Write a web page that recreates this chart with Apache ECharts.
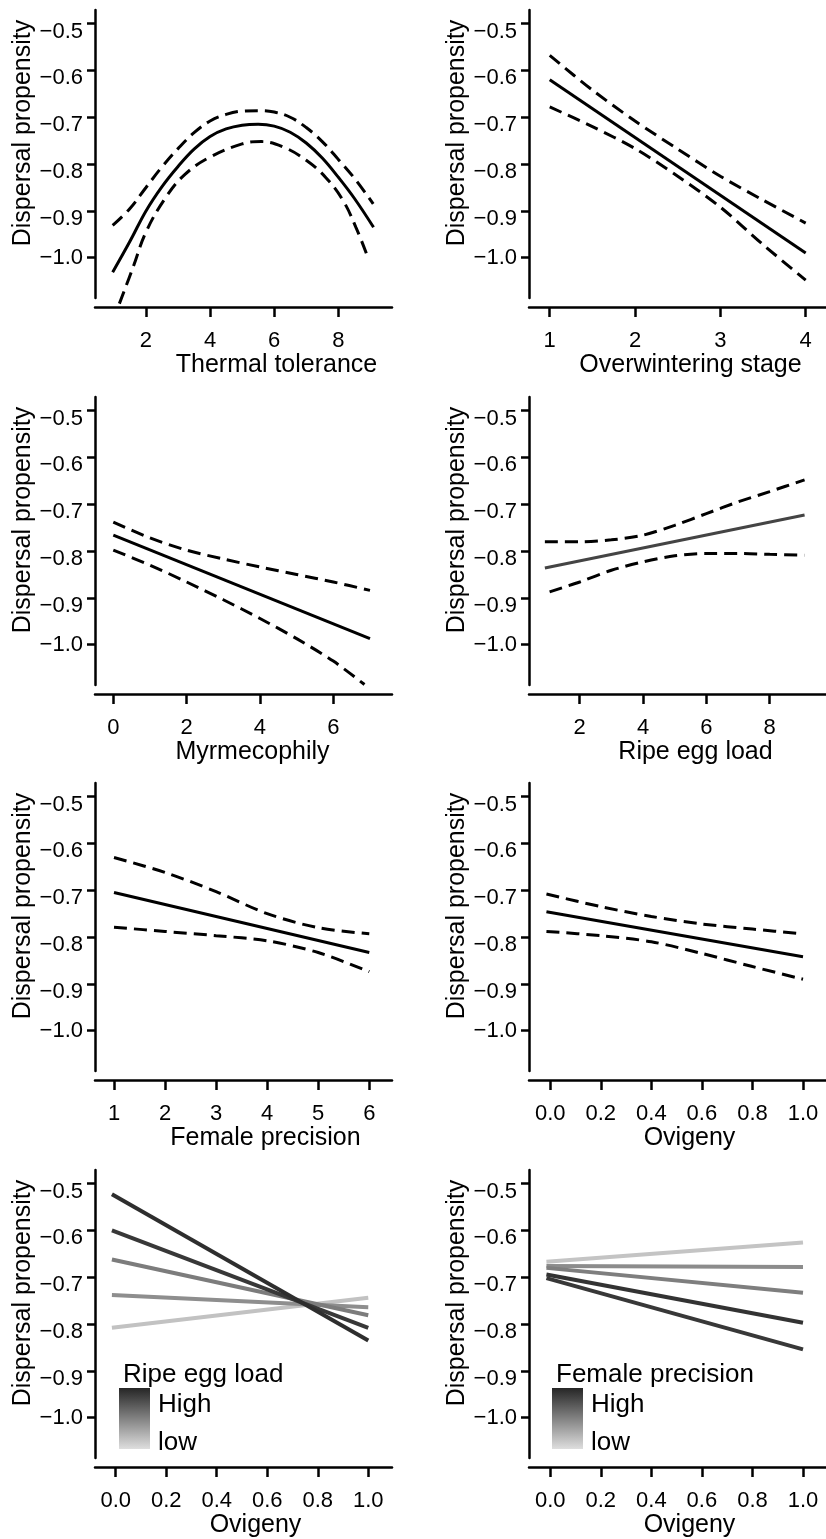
<!DOCTYPE html>
<html>
<head>
<meta charset="utf-8">
<script src="https://cdn.jsdelivr.net/npm/echarts@6/dist/echarts.min.js"></script>
<style>
  html, body { margin: 0; padding: 0; background: #fff; }
  #chart { width: 826px; height: 1539px; }
</style>
</head>
<body>
<div id="chart"></div>
<script>
// y axis, shared by all panels
const yTicks = [-1.0, -0.9, -0.8, -0.7, -0.6, -0.5];

// 1. thermal tolerance (quadratic fit + CI)
const thermalX = [0.96, 1.5, 2, 2.5, 3, 3.5, 4, 4.5, 5, 5.5, 6, 6.5, 7, 7.5, 8, 8.5, 9.1];
const thermalFit = [-1.031, -0.965, -0.900, -0.848, -0.805, -0.768, -0.741, -0.725, -0.717, -0.715, -0.719, -0.732, -0.755, -0.787, -0.828, -0.873, -0.935];
const thermalUpX = [0.96, 1.5, 2, 2.5, 3, 3.5, 4, 4.5, 5, 5.5, 6, 6.5, 7, 7.5, 8, 8.5, 9.09];
const thermalUp = [-0.931, -0.895, -0.850, -0.806, -0.767, -0.733, -0.708, -0.694, -0.687, -0.686, -0.689, -0.700, -0.722, -0.752, -0.790, -0.830, -0.885];
const thermalLoX = [1.17, 1.6, 2.0, 2.6, 3.2, 4.0, 5.0, 5.6, 6.3, 7.0, 7.6, 8.15, 8.55, 8.9];
const thermalLo = [-1.098, -1.020, -0.945, -0.873, -0.823, -0.785, -0.757, -0.752, -0.764, -0.792, -0.828, -0.878, -0.935, -0.995];

// 2. overwintering stage
const winterX = [1, 4];
const winterFit = [-0.620, -0.990];
const winterCiX = [1, 1.5, 2, 2.5, 3, 3.5, 4];
const winterUp = [-0.568, -0.642, -0.708, -0.768, -0.826, -0.877, -0.926];
const winterLo = [-0.678, -0.720, -0.767, -0.826, -0.892, -0.972, -1.048];

// 3. myrmecophily
const myrmX = [0, 7];
const myrmFit = [-0.766, -0.987];
const myrmUpX = [0, 1, 2, 3, 4, 5, 6, 7];
const myrmUp = [-0.738, -0.772, -0.798, -0.817, -0.834, -0.850, -0.866, -0.884];
const myrmLoX = [0, 1, 2, 3, 4, 5, 6, 6.85];
const myrmLo = [-0.798, -0.830, -0.866, -0.904, -0.944, -0.987, -1.035, -1.085];

// 4. ripe egg load
const eggX = [0.9, 9.1];
const eggFit = [-0.836, -0.723];
const eggUpX = [0.9, 2, 3, 4, 5, 6, 7, 8, 9.1];
const eggUp = [-0.780, -0.780, -0.776, -0.766, -0.745, -0.720, -0.695, -0.673, -0.648];
const eggLoX = [1.05, 2, 3, 4, 5, 6, 7, 8, 9.1];
const eggLo = [-0.887, -0.866, -0.841, -0.823, -0.810, -0.805, -0.805, -0.807, -0.809];

// 5. female precision
const precX = [1, 6];
const precFit = [-0.705, -0.833];
const precCiX = [1, 2, 3, 4, 5, 6];
const precUp = [-0.630, -0.662, -0.703, -0.750, -0.780, -0.793];
const precLo = [-0.779, -0.788, -0.797, -0.808, -0.833, -0.874];

// 6. ovigeny
const oviX = [-0.015, 1.0];
const oviFit = [-0.746, -0.842];
const oviCiX = [-0.015, 0.2, 0.4, 0.6, 0.8, 1.0];
const oviUp = [-0.708, -0.735, -0.756, -0.772, -0.783, -0.793];
const oviLo = [-0.788, -0.797, -0.810, -0.835, -0.863, -0.890];

// 7. ovigeny x ripe egg load (lowest level first)
const eggLevelStart = [-0.808, -0.738, -0.662, -0.600, -0.523];
const eggLevelEnd = [-0.744, -0.764, -0.781, -0.808, -0.835];
const eggLevelColor = ['#c2c2c2', '#8e8e8e', '#7c7c7c', '#383838', '#2e2e2e'];

// 8. ovigeny x female precision (lowest level first)
const precLevelStart = [-0.667, -0.676, -0.680, -0.694, -0.702];
const precLevelEnd = [-0.626, -0.678, -0.733, -0.797, -0.854];
const precLevelColor = ['#c4c4c4', '#8c8c8c', '#7e7e7e', '#333333', '#383838'];

const legendTitles = ['Ripe egg load', 'Female precision'];
const legendLevels = ['High', 'low'];

const yTitle = 'Dispersal propensity';
const xTitles = ['Thermal tolerance', 'Overwintering stage', 'Myrmecophily', 'Ripe egg load',
  'Female precision', 'Ovigeny', 'Ovigeny', 'Ovigeny'];
const xTicks = [
  [2, 4, 6, 8], [1, 2, 3, 4], [0, 2, 4, 6], [2, 4, 6, 8],
  [1, 2, 3, 4, 5, 6], [0, 0.2, 0.4, 0.6, 0.8, 1], [0, 0.2, 0.4, 0.6, 0.8, 1], [0, 0.2, 0.4, 0.6, 0.8, 1]
];

// layout
const FONT = 'Liberation Sans, Arial, sans-serif';
const colLeft = [95, 529];
const rowTop = [10, 397, 783, 1170];
const GW = 297, GH = 288;
const Y_MIN = -1.086, Y_MAX = -0.471;
const xRange = [[0.409, 9.676], [0.757, 4.238], [-0.499, 7.60], [0.399, 9.777],
  [0.628, 6.445], [-0.084, 1.091], [-0.082, 1.094], [-0.084, 1.091]];
const titleShift = [33, 13, 9, 18, 22, 12, 12, 12];

const chart = echarts.init(document.getElementById('chart'), null, { renderer: 'canvas' });

const grids = [], xAxes = [], yAxes = [], series = [];

for (let i = 0; i < 8; i++) {
  const col = i % 2, row = Math.floor(i / 2);
  grids.push({ left: colLeft[col], top: rowTop[row], width: GW, height: GH });
  const dec = i >= 5;
  xAxes.push({
    gridIndex: i, type: 'value', min: xRange[i][0], max: xRange[i][1],
    position: 'bottom', offset: 9,
    axisLine: { show: true, onZero: false, lineStyle: { color: '#000', width: 2.5 } },
    axisTick: { show: true, length: 10, customValues: xTicks[i], lineStyle: { color: '#000', width: 2.5 } },
    axisLabel: {
      customValues: xTicks[i], margin: 34, verticalAlign: 'middle',
      color: '#000', fontSize: 22, fontFamily: FONT,
      formatter: v => dec ? v.toFixed(1) : String(v)
    },
    splitLine: { show: false },
    name: xTitles[i], nameLocation: 'middle', nameGap: 55,
    nameTextStyle: {
      color: '#000', fontSize: 25, fontFamily: FONT, verticalAlign: 'middle',
      padding: [0, 0, 0, titleShift[i] * 2]
    }
  });
  yAxes.push({
    gridIndex: i, type: 'value', min: Y_MIN, max: Y_MAX,
    axisLine: { show: true, onZero: false, lineStyle: { color: '#000', width: 2.5 } },
    axisTick: { show: true, length: 8, customValues: yTicks, lineStyle: { color: '#000', width: 2.5 } },
    axisLabel: {
      customValues: yTicks, margin: 12, color: '#000', fontSize: 22, fontFamily: FONT,
      formatter: v => (Math.abs(v + 1) < 1e-6 ? '{c|' : '{s|') + '\u2212' + Math.abs(v).toFixed(1) + '}',
      rich: {
        s: { fontSize: 22, fontFamily: FONT, color: '#000', padding: [16, 0, 0, 0] },
        c: { fontSize: 22, fontFamily: FONT, color: '#000' }
      }
    },
    splitLine: { show: false },
    name: yTitle, nameLocation: 'middle', nameGap: 72,
    nameTextStyle: {
      color: '#000', fontSize: 25, fontFamily: FONT, verticalAlign: 'middle',
      padding: [0, 0, 0, 42]
    }
  });
}

function line(g, xs, ys, opt) {
  series.push({
    type: 'line', xAxisIndex: g, yAxisIndex: g,
    data: xs.map((x, k) => [x, ys[k]]),
    symbol: 'none', silent: true, clip: false,
    smooth: opt.smooth || false,
    lineStyle: {
      color: opt.color || '#000', width: opt.width || 3,
      type: opt.dashed ? [13, 7] : 'solid', cap: 'butt'
    },
    z: opt.z || 2
  });
}

// fitted lines and confidence bands
line(0, thermalUpX, thermalUp, { dashed: true, smooth: 0.4 });
line(0, thermalLoX, thermalLo, { dashed: true, smooth: 0.4 });
line(0, thermalX, thermalFit, { smooth: 0.4 });

line(1, winterCiX, winterUp, { dashed: true, smooth: 0.3 });
line(1, winterCiX, winterLo, { dashed: true, smooth: 0.3 });
line(1, winterX, winterFit, {});

line(2, myrmUpX, myrmUp, { dashed: true, smooth: 0.3 });
line(2, myrmLoX, myrmLo, { dashed: true, smooth: 0.3 });
line(2, myrmX, myrmFit, {});

line(3, eggUpX, eggUp, { dashed: true, smooth: 0.3 });
line(3, eggLoX, eggLo, { dashed: true, smooth: 0.3 });
line(3, eggX, eggFit, { color: '#444' });

line(4, precCiX, precUp, { dashed: true, smooth: 0.3 });
line(4, precCiX, precLo, { dashed: true, smooth: 0.3 });
line(4, precX, precFit, {});

line(5, oviCiX, oviUp, { dashed: true, smooth: 0.3 });
line(5, oviCiX, oviLo, { dashed: true, smooth: 0.3 });
line(5, oviX, oviFit, {});

// interaction panels
for (let k = 0; k < 5; k++) {
  line(6, oviX, [eggLevelStart[k], eggLevelEnd[k]], { color: eggLevelColor[k], width: 4, z: 2 + k });
  line(7, oviX, [precLevelStart[k], precLevelEnd[k]], { color: precLevelColor[k], width: 4, z: 2 + k });
}

// gradient legends for the two interaction panels
const legendLeft = [119, 552];
const graphic = [];
for (let c = 0; c < 2; c++) {
  const x0 = legendLeft[c];
  graphic.push({
    type: 'rect', left: x0, top: 1388, silent: true,
    shape: { width: 31, height: 61 },
    style: {
      fill: new echarts.graphic.LinearGradient(0, 0, 0, 1, [
        { offset: 0, color: '#262626' }, { offset: 1, color: '#dedede' }
      ])
    }
  });
  graphic.push({
    type: 'text', silent: true, x: x0 + 4, y: 1375,
    style: { text: legendTitles[c], font: '26px ' + FONT, fill: '#000', verticalAlign: 'middle' }
  });
  graphic.push({
    type: 'text', silent: true, x: x0 + 39, y: 1405,
    style: { text: legendLevels[0], font: '26px ' + FONT, fill: '#000', verticalAlign: 'middle' }
  });
  graphic.push({
    type: 'text', silent: true, x: x0 + 39, y: 1443,
    style: { text: legendLevels[1], font: '26px ' + FONT, fill: '#000', verticalAlign: 'middle' }
  });
}

chart.setOption({
  animation: false,
  backgroundColor: '#fff',
  grid: grids,
  xAxis: xAxes,
  yAxis: yAxes,
  series: series,
  graphic: graphic
});
</script>
</body>
</html>
